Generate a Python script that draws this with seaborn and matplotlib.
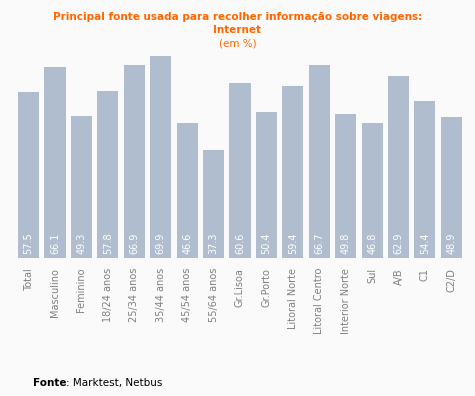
import matplotlib
matplotlib.use("Agg")
import matplotlib.pyplot as plt
import seaborn as sns
import pandas as pd

categories = ["Total", "Masculino", "Feminino", "18/24 anos", "25/34 anos", "35/44 anos",
              "45/54 anos", "55/64 anos", "Gr.Lisoa", "Gr.Porto", "Litoral Norte",
              "Litoral Centro", "Interior Norte", "Sul", "A/B", "C1", "C2/D"]
values = [57.5, 66.1, 49.3, 57.8, 66.9, 69.9, 46.6, 37.3, 60.6, 50.4, 59.4, 66.7, 49.8,
          46.8, 62.9, 54.4, 48.9]

df = pd.DataFrame({"cat": categories, "val": values})

sns.set_style("white")
plt.rcParams["font.family"] = ["DejaVu Sans"]

bg = "#FAFAFA"
fig = plt.figure(figsize=(4.75, 3.96), dpi=100, facecolor=bg)
ax = fig.add_axes([0.0324, 0.348, 0.978 - 0.0324, 0.859 - 0.348])
ax.set_facecolor(bg)

sns.barplot(data=df, x="cat", y="val", color="#B0BDCE", saturation=1, width=0.8,
            linewidth=0, edgecolor="none", ax=ax)
ax.set_xlim(-0.5, len(categories) - 0.5)
ax.set_ylim(0, 70)

for i, v in enumerate(values):
    ax.text(i, 1.6, f"{v:.1f}", rotation=90, ha="center", va="bottom",
            color="white", fontsize=7)

ax.set_xlabel("")
ax.set_ylabel("")
ax.set_yticks([])
ax.tick_params(axis="x", length=0, pad=7, labelsize=7, labelcolor="#808080")
plt.setp(ax.get_xticklabels(), rotation=90, ha="center", va="top")
for s in ax.spines.values():
    s.set_visible(False)

fig.text(0.5, 1 - 17 / 396, "Principal fonte usada para recolher informação sobre viagens:",
         ha="center", va="center", color="#FF6600", fontsize=7.5, fontweight="bold")
fig.text(0.5, 1 - 30 / 396, "Internet", ha="center", va="center", color="#FF6600",
         fontsize=7.5, fontweight="bold")
fig.text(0.5, 1 - 43 / 396, "(em %)", ha="center", va="center", color="#FF6600", fontsize=7.5)

fig.text(33 / 475, 1 - 383 / 396, "Fonte", ha="left", va="center", color="black",
         fontsize=7.5, fontweight="bold")
fig.text(66 / 475, 1 - 383 / 396, ": Marktest, Netbus", ha="left", va="center",
         color="black", fontsize=7.5)

fig.savefig("out.png", dpi=100, facecolor=bg)
